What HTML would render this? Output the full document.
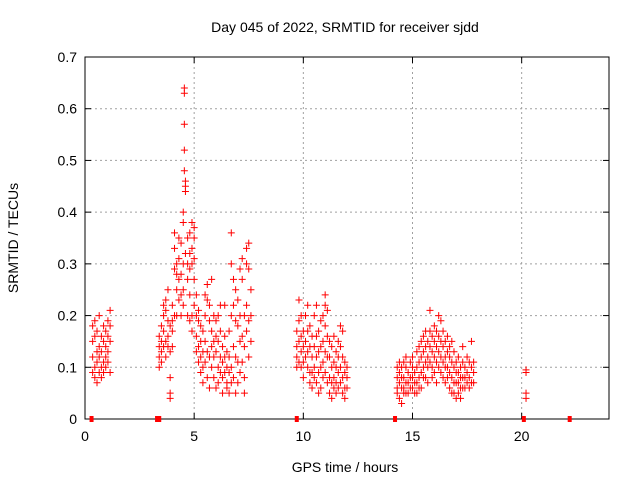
<!DOCTYPE html>
<html><head><meta charset="utf-8"><style>
body{margin:0;background:#fff}
svg text{font-family:"Liberation Sans",sans-serif;font-size:14px;fill:#000}
</style></head><body>
<svg id="c" width="640" height="480">
<text x="345" y="32" text-anchor="middle">Day 045 of 2022, SRMTID for receiver sjdd</text>
<text x="345" y="472" text-anchor="middle">GPS time / hours</text>
<text transform="translate(18,238) rotate(-90)" text-anchor="middle">SRMTID / TECUs</text>
<g id="grid"></g>
<g id="ax"></g>
<g id="pts"></g>
</svg>
<script>
const hours=[0.35,0.45,0.55,0.65,0.75,0.85,0.95,1.05,1.15,
3.4,3.5,3.6,3.7,3.8,3.9,4.0,4.1,4.2,4.3,4.4,4.5,4.55,4.6,4.7,4.8,4.9,5.0,
5.1,5.2,5.3,5.4,5.5,5.6,5.7,5.8,5.9,6.0,6.1,6.2,6.3,6.4,6.5,6.6,6.7,6.8,6.9,7.0,7.1,7.2,7.3,7.4,7.5,7.6,
9.7,9.8,9.9,10.0,10.1,10.2,10.3,10.4,10.5,10.6,10.7,10.8,10.9,11.0,11.1,11.2,11.3,11.4,11.5,11.6,11.7,11.8,11.9,12.0,
14.3,14.4,14.5,14.6,14.7,14.8,14.9,15.0,15.1,15.2,15.3,15.4,15.5,15.6,15.7,15.8,15.9,16.0,16.1,16.2,16.3,16.4,16.5,16.6,16.7,16.8,16.9,17.0,17.1,17.2,17.3,17.4,17.5,17.6,17.7,17.8,
20.2];
const values=[[.15,.12,.09,.18],[.19,.16,.1,.08],[.13,.11,.07,.17],[.14,.09,.12,.2],[.16,.1,.08,.13],[.18,.15,.11,.09],[.14,.12,.17,.1],[.16,.13,.19,.11],[.21,.15,.09,.18],
[.1,.14,.12,.16],[.13,.15,.11,.18],[.14,.2,.22,.17],[.21,.23,.15,.12],[.19,.14,.16,.25],[.13,.08,.05,.04,.18],[.17,.19,.22,.14],[.29,.33,.36,.2],[.28,.3,.25,.2],[.23,.27,.31,.35],[.24,.2,.34,.28],[.3,.38,.4,.22,.25],[.48,.52,.57,.64,.63],[.45,.44,.46,.32],[.35,.27,.3,.2],[.36,.32,.29,.24,.19],[.33,.38,.3,.2,.17],[.37,.35,.31,.27,.22],
[.2,.16,.13,.24],[.19,.21,.14,.11],[.15,.12,.09,.18],[.1,.07,.13,.17],[.24,.2,.15,.11],[.26,.23,.13,.08],[.22,.19,.12,.06],[.27,.17,.1,.14],[.2,.15,.08,.12],[.19,.16,.13,.06],[.2,.15,.1,.07],[.22,.17,.12,.09],[.14,.11,.08,.05],[.22,.16,.12,.09],[.13,.1,.07,.06],[.17,.12,.09,.05],[.36,.3,.2,.1,.07],[.27,.22,.14,.08],[.25,.19,.12,.05],[.23,.18,.11,.07],[.29,.2,.15,.09],[.31,.27,.16,.11],[.2,.14,.08,.05],[.33,.3,.22,.17],[.34,.29,.19,.12],[.25,.2,.15],
[.14,.12,.1,.17],[.19,.15,.11,.23],[.2,.16,.13,.1],[.17,.14,.11,.08],[.2,.15,.12],[.22,.17,.13,.1],[.18,.14,.09,.07],[.16,.12,.09,.06],[.2,.14,.1,.08],[.22,.16,.12,.07],[.17,.13,.09,.05],[.19,.14,.1,.06],[.2,.15,.11,.08],[.24,.22,.18,.13,.09],[.21,.16,.12,.07],[.15,.12,.08,.05],[.14,.1,.07,.04],[.16,.11,.08,.06],[.13,.1,.07,.05],[.15,.12,.09,.06],[.18,.14,.1,.07],[.17,.12,.08,.05],[.11,.09,.06,.04],[.1,.08,.06],
[.08,.06,.05,.1],[.09,.07,.04,.11],[.1,.08,.06,.03],[.11,.08,.06,.05],[.1,.07,.05,.12],[.09,.07,.05],[.11,.08,.06],[.1,.08,.06,.12],[.09,.07,.05],[.13,.1,.07,.05],[.14,.11,.08,.06],[.15,.12,.09,.06],[.16,.13,.1,.08],[.17,.14,.11,.08],[.15,.12,.1,.07],[.21,.17,.14,.11],[.16,.13,.1,.08],[.18,.15,.12,.09],[.17,.14,.11,.07],[.2,.16,.13,.1],[.19,.15,.12,.09],[.17,.14,.11,.08],[.15,.12,.1,.07],[.16,.13,.1,.08],[.14,.12,.09,.06],[.15,.11,.08,.05],[.13,.1,.07,.05],[.11,.09,.07,.04],[.12,.09,.07,.05],[.1,.08,.06,.04],[.14,.11,.08,.06],[.1,.08,.06],[.12,.09,.07],[.11,.08,.06],[.15,.1,.07],[.11,.09,.07],
[.095,.09,.05,.04]];
const zeroHours=[0.3,3.3,3.4,9.7,14.2,20.1,22.2];
const xTicks=[0,5,10,15,20];
const yTicks=[0,0.1,0.2,0.3,0.4,0.5,0.6,0.7];
const yTickLabels=["0","0.1","0.2","0.3","0.4","0.5","0.6","0.7"];

const L=85,R=609,T=57,B=419;
const X=h=>L+(h/24)*(R-L);
const Y=v=>B-(v/0.7)*(B-T);
const NS="http://www.w3.org/2000/svg";
function mk(p,tag,a){const e=document.createElementNS(NS,tag);for(const k in a)e.setAttribute(k,a[k]);p.appendChild(e);return e;}
const grid=document.getElementById('grid'),ax=document.getElementById('ax'),pts=document.getElementById('pts');
yTicks.forEach((v,i)=>{
  const y=Y(v);
  if(i>0&&i<yTicks.length-1){const g=mk(grid,'line',{x1:L,x2:R,y1:y,y2:y,stroke:'#a0a0a0','stroke-dasharray':'2,3'});
  
  }
  mk(ax,'line',{x1:L,x2:L+6,y1:y,y2:y,stroke:'#000'});
  mk(ax,'line',{x1:R,x2:R-6,y1:y,y2:y,stroke:'#000'});
  const t=mk(ax,'text',{x:L-8,y:y+5,'text-anchor':'end'});t.textContent=yTickLabels[i];
  
  
});
xTicks.forEach(h=>{
  const x=X(h);
  if(h>0){const g=mk(grid,'line',{x1:x,x2:x,y1:T,y2:B,stroke:'#a0a0a0','stroke-dasharray':'2,3'});
  
  }
  mk(ax,'line',{x1:x,x2:x,y1:B,y2:B-6,stroke:'#000'});
  mk(ax,'line',{x1:x,x2:x,y1:T,y2:T+6,stroke:'#000'});
  const t=mk(ax,'text',{x:x,y:B+22,'text-anchor':'middle'});t.textContent=h;
  
  
});
mk(ax,'rect',{x:L,y:T,width:R-L,height:B-T,fill:'none',stroke:'#000'});
hours.forEach((h,i)=>{
  values[i].forEach(v=>{
    const x=X(h),y=Y(v);
    const p=mk(pts,'path',{d:`M${x-3.5},${y}h7M${x},${y-3.5}v7`,stroke:'#ff0000','stroke-width':1,fill:'none'});
    
    
  });
});
zeroHours.forEach(h=>{
  const r=mk(pts,'rect',{x:X(h)-2,y:B-3,width:4,height:6,fill:'#ff0000'});
  
  
});
</script>
</body></html>
